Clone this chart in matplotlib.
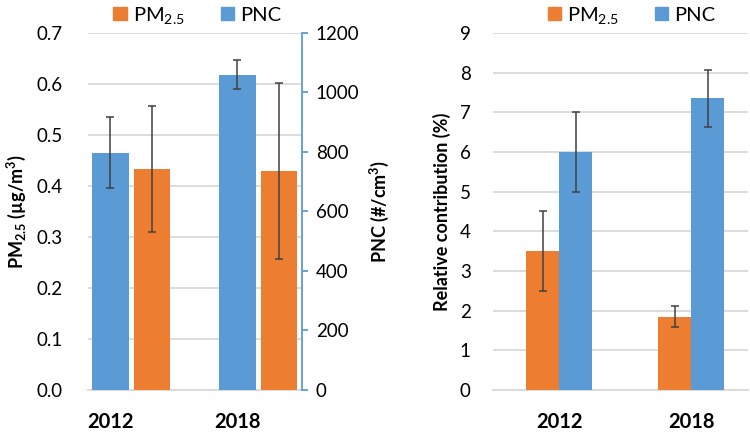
import numpy as np
import matplotlib
matplotlib.use('Agg')
import matplotlib.pyplot as plt
from matplotlib.patches import Patch

plt.rcParams['font.family'] = ['Lato', 'DejaVu Sans']
plt.rcParams['mathtext.default'] = 'regular'
plt.rcParams['font.size'] = 13.5

years = ['2012', '2018']
# left panel: absolute values
pm_abs = [0.433, 0.429]
pm_abs_err = [0.123, 0.173]
pnc_abs = [798, 1060]
pnc_abs_err = [120, 48]
# right panel: relative contribution (%)
pm_rel = [3.5, 1.85]
pm_rel_err = [1.0, 0.27]
pnc_rel = [6.0, 7.35]
pnc_rel_err = [1.0, 0.72]

orange = '#ED7D31'
blue = '#5B9BD5'
grid_c = '#D9D9D9'
err_c = '#404040'
ekw = dict(ecolor=err_c, elinewidth=1.1, capsize=3, capthick=1.1)

fig = plt.figure(figsize=(7.5, 4.37), dpi=100)
ax = fig.add_axes([0.1173, 0.1076, 0.2853, 0.8169])
ax2 = ax.twinx()
x = np.arange(len(years))
w = 0.29

ax.bar(x + 0.327, pm_abs, w, color=orange, yerr=pm_abs_err, error_kw=ekw, zorder=3)
ax2.bar(x, pnc_abs, w, color=blue, yerr=pnc_abs_err, error_kw=ekw, zorder=3)
ax.set_xlim(-0.177, 1.508)
ax.set_ylim(0, 0.7)
ax2.set_ylim(0, 1200)
ax.set_yticks(np.arange(0, 0.71, 0.1))
ax.set_yticklabels(['%.1f' % v for v in np.arange(0, 0.71, 0.1)])
ax2.set_yticks(range(0, 1201, 200))
ax.set_xticks(x)
ax.set_xticklabels(years, fontweight='bold', fontsize=14.5)
ax.yaxis.grid(True, color=grid_c, lw=1.3, zorder=0)
ax.set_axisbelow(True)
for a in (ax, ax2):
    for s in a.spines.values():
        s.set_visible(False)
ax.spines['bottom'].set_visible(True)
ax.spines['bottom'].set_color(grid_c)
ax.spines['bottom'].set_linewidth(1.3)
ax2.spines['right'].set_visible(True)
ax2.spines['right'].set_color(blue)
ax2.spines['right'].set_linewidth(1.3)
ax.tick_params(axis='y', length=0, pad=18)
ax.tick_params(axis='x', length=0, pad=16)
ax2.tick_params(axis='y', direction='out', length=4, color=blue, width=1.3, pad=6)
ax.set_ylabel('PM$_{2.5}$ (µg/m$^3$)', fontweight='bold', fontsize=13, labelpad=6)
ax2.set_ylabel('PNC (#/cm$^3$)', fontweight='bold', fontsize=13, labelpad=6)

handles = [Patch(color=orange, label='PM$_{2.5}$'), Patch(color=blue, label='PNC')]
ax.legend(handles=handles, loc='center', bbox_to_anchor=(0.51, 1.05), ncol=2,
          frameon=False, handlelength=0.65, handleheight=0.65, handletextpad=0.3,
          columnspacing=1.8, fontsize=14.5)

# right panel
bx = fig.add_axes([0.6573, 0.1076, 0.34, 0.8169])
wr = 0.25
bx.bar(x - wr / 2, pm_rel, wr, color=orange, yerr=pm_rel_err, error_kw=ekw, zorder=3)
bx.bar(x + wr / 2, pnc_rel, wr, color=blue, yerr=pnc_rel_err, error_kw=ekw, zorder=3)
bx.set_xlim(-0.5, 1.43)
bx.set_ylim(0, 9)
bx.set_yticks(range(0, 10))
bx.set_xticks(x)
bx.set_xticklabels(years, fontweight='bold', fontsize=14.5)
bx.yaxis.grid(True, color=grid_c, lw=1.3, zorder=0)
bx.set_axisbelow(True)
for s in bx.spines.values():
    s.set_visible(False)
bx.spines['bottom'].set_visible(True)
bx.spines['bottom'].set_color(grid_c)
bx.spines['bottom'].set_linewidth(1.3)
bx.tick_params(axis='y', length=0, pad=16)
bx.tick_params(axis='x', length=0, pad=16)
bx.set_ylabel('Relative contribution (%)', fontweight='bold', fontsize=13, labelpad=6)
bx.legend(handles=handles, loc='center', bbox_to_anchor=(0.545, 1.05), ncol=2,
          frameon=False, handlelength=0.65, handleheight=0.65, handletextpad=0.3,
          columnspacing=1.8, fontsize=14.5)

fig.savefig('out.png', dpi=100)
